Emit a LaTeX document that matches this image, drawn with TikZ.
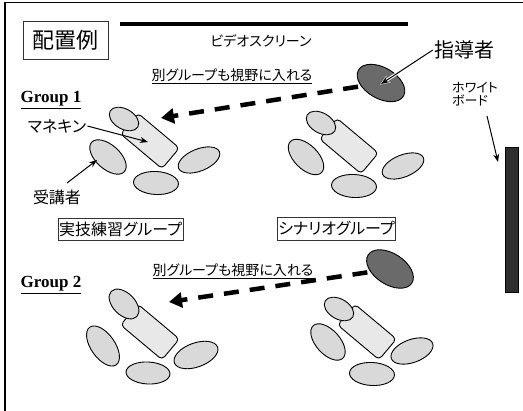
\documentclass[tikz,border=0pt]{standalone}
\usepackage{fontspec}
\setmainfont{Liberation Serif}
\newfontfamily\jp[RawFeature=+palt]{Noto Sans CJK JP}
\usetikzlibrary{shapes.geometric,arrows.meta}
\definecolor{lightfill}{HTML}{D9D9D9}
\definecolor{bodyfill}{HTML}{E8E8E8}
\definecolor{bossfill}{HTML}{6A6A6A}
\definecolor{boardfill}{HTML}{2E2E2E}
\begin{document}
\begin{tikzpicture}[x=1pt,y=-1pt,
  person/.style={ellipse, draw=black, line width=0.9pt, fill=lightfill, inner sep=0pt},
  torso/.style={rectangle, rounded corners=4pt, draw=black, line width=0.9pt, fill=bodyfill, inner sep=0pt, minimum width=54pt, minimum height=27pt},
  boss/.style={ellipse, draw=black, line width=0.9pt, fill=bossfill, inner sep=0pt, minimum width=52pt, minimum height=31pt},
  tagbox/.style={draw=black!80, line width=0.7pt, inner sep=0pt},
  jpt/.style={font={\jp\fontsize{#1}{#1}\selectfont}, inner sep=1pt},
  grp/.style={font={\bfseries\fontsize{17}{17}\selectfont}, inner sep=1pt},
  thinarr/.style={draw=black, line width=1pt, -{Stealth[length=8pt,width=6pt]}},
  dasharr/.style={draw=black, line width=4.5pt, dash pattern=on 15pt off 11pt, -{Triangle[length=13pt,width=15pt]}}
]
\useasboundingbox (0,0) rectangle (523,411);
\fill[white] (0,0) rectangle (523,411);
% frame
\draw[line width=1.6pt] (5,411) -- (5,2.5) -- (523,2.5);

% title
\node[tagbox, jpt=22, minimum width=85pt, minimum height=38pt] (title) at (65.5,40) {配置例};
% video screen
\coordinate (scrL) at (120,24);
\coordinate (scrR) at (408,24);
\draw[line width=4pt] (scrL) -- (scrR);
\node[jpt=14] (scr) at (261,41) {ビデオスクリーン};

% instructor 1
\node[boss, rotate=-30] (boss1) at (381,83) {};
\node[jpt=20] (bosslab) at (464,50) {指導者};
\coordinate (bosstip) at (381,84);
\draw[draw=white, line width=3pt, -{Stealth[length=10pt,width=8pt]}, shorten >=-1pt] (bosslab.west) -- (bosstip);
\draw[thinarr] (bosslab.west) -- (bosstip);
\node[jpt=14] (see1) at (232,76) {\underline{別グループも視野に入れる}};
\coordinate (tip1) at (161,118);
\draw[dasharr, shorten <=3pt] (boss1) -- (tip1);

% whiteboard
\node[draw=black, fill=boardfill, minimum width=13pt, minimum height=145pt, inner sep=0pt, line width=0.6pt] (board) at (511.5,219.5) {};
\node[jpt=13, align=left, anchor=north west] (wblab) at (451,81) {ホワイト\\ボード};
\coordinate (wbtip) at (498,162);
\coordinate (wbstart) at (487,116);
\draw[thinarr] (wbstart) -- (wbtip);

% Group 1 label
\node[grp] (g1) at (51,100) {\underline{Group 1}};

% Group 1 practice group
\node[torso, rotate=-40] (b1) at (150,141) {};
\node[person, minimum width=32pt, minimum height=20pt, rotate=-30] (h1) at (124,119) {};
\node[person, minimum width=44pt, minimum height=24pt, rotate=-42] (l1) at (108,157) {};
\node[person, minimum width=44pt, minimum height=22pt, rotate=22] (r1) at (199,160) {};
\node[person, minimum width=45pt, minimum height=23pt, rotate=-3] (d1) at (156,183) {};
\node[jpt=16] (mane) at (57,126) {マネキン};
\coordinate (manetip) at (148,142);
\draw[thinarr] (mane.east) -- (manetip);
\node[jpt=16] (stud) at (57,197) {受講者};
\coordinate (studtip) at (97,160);
\coordinate (studstart) at (67,183);
\draw[thinarr] (studstart) -- (studtip);
\node[tagbox, jpt=16, minimum width=105pt, minimum height=22pt] (prac) at (120.5,229) {実技練習グループ};

% scenario group
\node[torso, rotate=-40] (b2) at (349,146) {};
\node[person, minimum width=32pt, minimum height=20pt, rotate=-30] (h2) at (321,123) {};
\node[person, minimum width=44pt, minimum height=24pt, rotate=-45] (l2) at (306,157) {};
\node[person, minimum width=44pt, minimum height=22pt, rotate=22] (r2) at (403,166) {};
\node[person, minimum width=45pt, minimum height=23pt, rotate=-3] (d2) at (354,186) {};
\node[tagbox, jpt=16, minimum width=113pt, minimum height=23pt] (scen) at (336.5,228.5) {シナリオグループ};

% Group 2
\node[grp] (g2) at (51,285) {\underline{Group 2}};
\node[boss, rotate=-33] (boss2) at (390,269) {};
\node[jpt=14] (see2) at (233,271) {\underline{別グループも視野に入れる}};
\coordinate (tip2) at (169,302);
\draw[dasharr, shorten <=3pt] (boss2) -- (tip2);

\node[torso, rotate=-40] (b3) at (150,332) {};
\node[person, minimum width=36pt, minimum height=22pt, rotate=-45] (h3) at (124,304) {};
\node[person, minimum width=46pt, minimum height=24pt, rotate=-55] (l3) at (103,346) {};
\node[person, minimum width=46pt, minimum height=24pt, rotate=20] (r3) at (196,355) {};
\node[person, minimum width=44pt, minimum height=22pt, rotate=-3] (d3) at (148,373) {};

\node[torso, rotate=-40] (b4) at (367,332) {};
\node[person, minimum width=32pt, minimum height=20pt, rotate=-30] (h4) at (339,309) {};
\node[person, minimum width=44pt, minimum height=24pt, rotate=-48] (l4) at (328,342) {};
\node[person, minimum width=44pt, minimum height=23pt, rotate=20] (r4) at (412,351) {};
\node[person, minimum width=45pt, minimum height=23pt, rotate=-3] (d4) at (372,374) {};
\end{tikzpicture}
\end{document}
